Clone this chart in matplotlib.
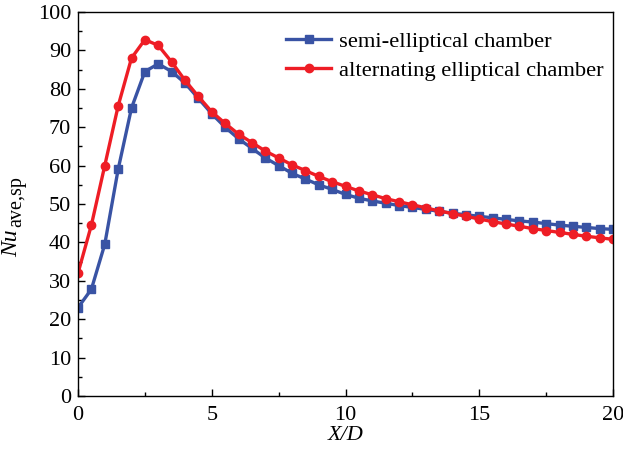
import matplotlib
matplotlib.use("Agg")
import matplotlib.pyplot as plt
from matplotlib.ticker import MultipleLocator

plt.rcParams['font.family'] = ['Liberation Serif', 'DejaVu Serif']

x = [i * 0.5 for i in range(41)]
semi = [23.0, 27.8, 39.5, 59.0, 75.0, 84.5, 86.5, 84.5, 81.5, 77.5,
        73.5, 70.0, 67.0, 64.5, 62.0, 60.0, 58.0, 56.5, 55.0, 53.8,
        52.5, 51.5, 50.8, 50.2, 49.6, 49.1, 48.6, 48.1, 47.6, 47.2,
        46.8, 46.4, 46.0, 45.6, 45.3, 44.9, 44.5, 44.2, 43.9, 43.6, 43.4]
alt = [32.0, 44.5, 60.0, 75.5, 88.0, 92.8, 91.3, 87.0, 82.2, 78.0,
       74.0, 71.0, 68.2, 66.0, 63.8, 62.0, 60.2, 58.7, 57.2, 55.8,
       54.6, 53.4, 52.4, 51.4, 50.6, 49.8, 49.0, 48.2, 47.5, 46.8,
       46.1, 45.4, 44.8, 44.2, 43.6, 43.1, 42.6, 42.1, 41.6, 41.2, 40.8]
labels = ['semi-elliptical chamber', 'alternating elliptical chamber']

fig = plt.figure(figsize=(6.23, 4.53), dpi=100)
ax = fig.add_axes([0.1252, 0.1258, 0.8588, 0.8477])

ax.plot(x, semi, color='#3953a4', lw=2.4, marker='s', ms=5.5, label=labels[0])
ax.plot(x, alt, color='#ee1d25', lw=2.4, marker='o', ms=6, label=labels[1])

ax.set_xlim(0, 20)
ax.set_ylim(0, 100)
ax.xaxis.set_major_locator(MultipleLocator(5))
ax.xaxis.set_minor_locator(MultipleLocator(2.5))
ax.yaxis.set_major_locator(MultipleLocator(10))
ax.yaxis.set_minor_locator(MultipleLocator(5))
ax.tick_params(which='both', direction='in', top=False, right=False, labelsize=16)
ax.tick_params(which='major', length=5, width=1)
ax.tick_params(which='minor', length=3, width=1)
ax.tick_params(axis='x', which='major', pad=7)
ax.tick_params(axis='y', which='major', pad=5)
for s in ax.spines.values():
    s.set_linewidth(1.0)

ax.set_xlabel('X/D', fontsize=16, fontstyle='italic', labelpad=1)

# y label: italic "Nu" with a large upright subscript "ave,sp"
fig.text(0.019, 0.432, 'Nu', rotation=90, fontsize=17, fontstyle='italic',
         ha='center', va='bottom')
fig.text(0.027, 0.498, 'ave,sp', rotation=90, fontsize=14.5,
         ha='center', va='bottom')

ax.legend(loc='upper left', bbox_to_anchor=(0.36, 0.99), frameon=False,
          fontsize=16.2, handlelength=2.0, handletextpad=0.35, labelspacing=0.34,
          borderaxespad=0.3)

fig.savefig('out.png', dpi=100)
